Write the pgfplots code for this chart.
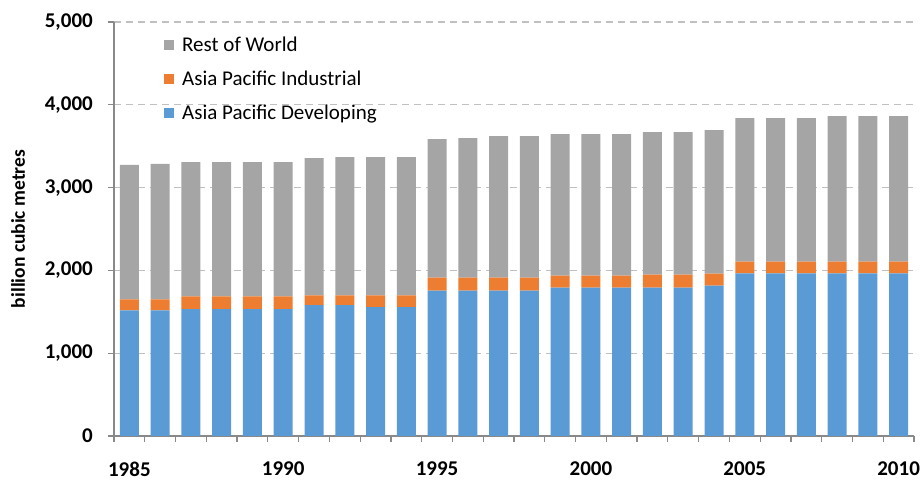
\documentclass[border=0pt]{standalone}
\usepackage{pgfplots}
\pgfplotsset{compat=1.18}
\usepackage{pgfplotstable}
\usepackage{fontspec}
\setmainfont{Carlito}

\definecolor{apdev}{HTML}{5B9BD5}
\definecolor{apind}{HTML}{ED7D31}
\definecolor{restw}{HTML}{A5A5A5}
\definecolor{axgray}{HTML}{898989}
\definecolor{gridgray}{HTML}{C0C0C0}

% gas consumption, billion cubic metres
\pgfplotstableread{
year dev  ind rest
1985 1516 133 1624
1986 1516 133 1636
1987 1532 153 1624
1988 1532 153 1624
1989 1532 153 1624
1990 1532 153 1624
1991 1580 117 1660
1992 1580 117 1672
1993 1556 141 1672
1994 1556 141 1672
1995 1757 156 1673
1996 1757 156 1685
1997 1757 156 1709
1998 1757 156 1709
1999 1793 144 1709
2000 1793 144 1709
2001 1793 144 1709
2002 1793 156 1721
2003 1793 156 1721
2004 1817 144 1733
2005 1965 141 1733
2006 1965 141 1733
2007 1965 141 1733
2008 1965 141 1757
2009 1965 141 1757
2010 1965 141 1757
}\gasdata

\begin{document}
\begin{tikzpicture}
\begin{axis}[
    name=ax,
    scale only axis,
    width=800pt, height=414pt,
    ybar stacked, bar width=19pt,
    xmin=1984.5, xmax=2010.5,
    ymin=0, ymax=5000,
    axis x line*=bottom, axis y line*=left,
    axis line style={axgray, line width=1.3pt},
    tick style={axgray, line width=1.2pt},
    tick align=outside, major tick length=6pt,
    xtick={1984.5,1985.5,...,2010.5}, xticklabels={},
    extra x ticks={1985,1990,...,2010},
    extra x tick labels={1985,1990,1995,2000,2005,2010},
    extra x tick style={major tick length=0pt, grid=none},
    ytick={0,1000,...,5000},
    ymajorgrids,
    grid style={gridgray, line width=1.2pt, dash pattern=on 7pt off 5pt},
    /pgf/number format/assume math mode=true,
    ticklabel style={font=\bfseries\fontsize{21}{24}\selectfont},
    xticklabel style={inner sep=0pt, anchor=north, yshift=-26pt},
    yticklabel style={inner sep=0pt, anchor=east, xshift=-15pt},
    ylabel={billion cubic metres},
    every axis y label/.style={at={(rel axis cs:0,0.5)}, xshift=-96pt,
        rotate=90, anchor=center, font=\bfseries\fontsize{19.5}{22}\selectfont},
    legend style={at={(0.0625,0.97)}, anchor=north west, draw=none, fill=none,
        inner sep=0pt, row sep=14pt, font=\fontsize{21}{24}\selectfont,
        /tikz/every odd column/.append style={column sep=6pt}},
    legend cell align=left,
    reverse legend,
    legend image code/.code={\fill[#1,draw=none] (0pt,-5pt) rectangle (10pt,5pt);},
]
\addplot[fill=apdev, draw=none] table[x=year, y=dev] {\gasdata};
\addplot[fill=apind, draw=none] table[x=year, y=ind] {\gasdata};
\addplot[fill=restw, draw=none] table[x=year, y=rest] {\gasdata};
\legend{Asia Pacific Developing, Asia Pacific Industrial, Rest of World}
\end{axis}
\pgfresetboundingbox
\path ([shift={(-114pt,-47pt)}]ax.south west) rectangle ([shift={(6pt,22pt)}]ax.north east);
\end{tikzpicture}
\end{document}
